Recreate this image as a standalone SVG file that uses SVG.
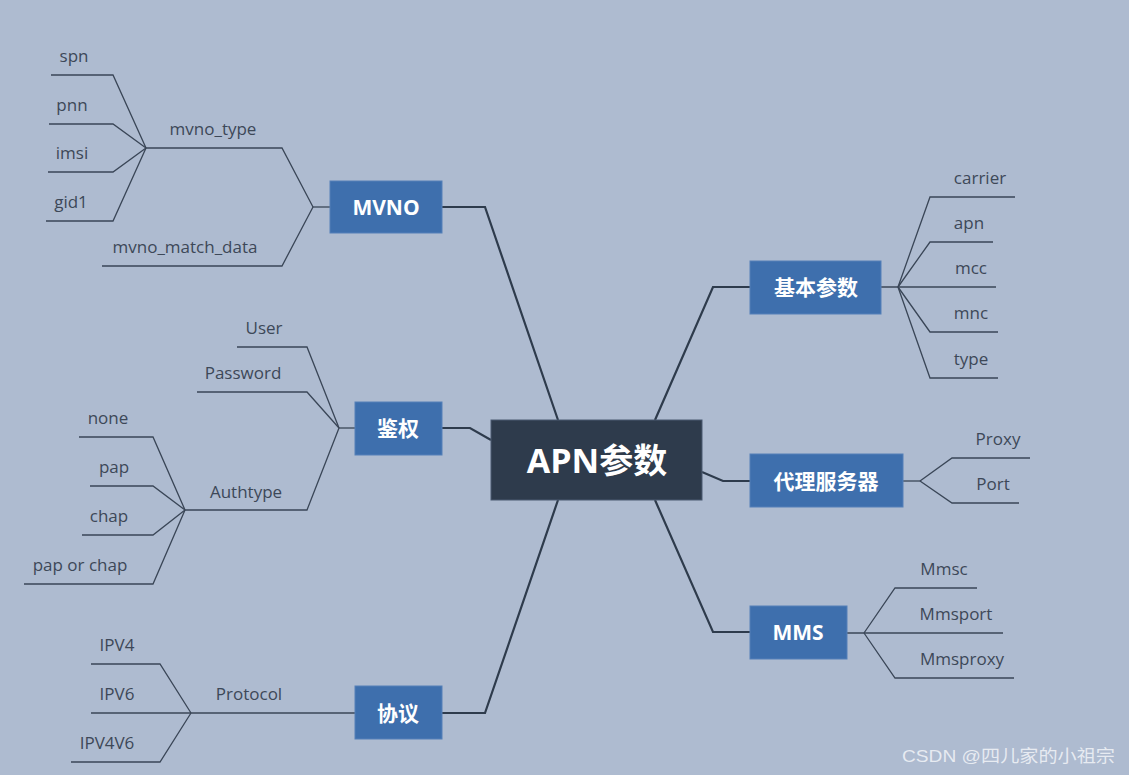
<svg xmlns="http://www.w3.org/2000/svg" width="1129" height="775" viewBox="0 0 1129 775">
<style>
.main{fill:#2e3b4c;stroke:#4a5a70;stroke-width:1}
.topic{fill:#3e6fad;stroke:#5580b8;stroke-width:1}
.tt{font-family:"Open Sans","Noto Sans","Noto Sans CJK SC",sans-serif;font-weight:bold;fill:#ffffff;text-anchor:middle;dominant-baseline:central}
.leaf{font-family:"Open Sans","Noto Sans",sans-serif;font-size:17px;fill:#3d4858;text-anchor:middle}
.c1{fill:none;stroke:#2e3b4c;stroke-width:2.2;stroke-linejoin:miter}
.c2{fill:none;stroke:#3a4657;stroke-width:1.3}
.wm{font-family:"Liberation Sans","Noto Sans CJK SC",sans-serif;font-size:17px;fill:#f2f4f8;fill-opacity:0.85}
</style>
<rect width="1129" height="775" fill="#aebbd0"/>
<g id="connectors">
<polyline class="c1" points="558,420 485,207 442,207"/>
<polyline class="c1" points="491,440 470,428 442,428"/>
<polyline class="c1" points="558,500 485,713 442,713"/>
<polyline class="c1" points="655,420 713,287 750,287"/>
<polyline class="c1" points="702,472 723,481 750,481"/>
<polyline class="c1" points="655,500 713,632 750,632"/>
<polyline class="c2" points="330,207 313,207"/>
<polyline class="c2" points="313,207 282,148 146,148"/>
<polyline class="c2" points="313,207 282,266 102,266"/>
<polyline class="c2" points="146,148 113,75 51,75"/>
<polyline class="c2" points="146,148 113,124 49,124"/>
<polyline class="c2" points="146,148 113,172 48,172"/>
<polyline class="c2" points="146,148 113,221 46,221"/>
<polyline class="c2" points="355,428 339,428"/>
<polyline class="c2" points="339,428 307,347 237,347"/>
<polyline class="c2" points="339,428 307,392 197,392"/>
<polyline class="c2" points="339,428 307,510 185,510"/>
<polyline class="c2" points="185,510 153,437 79,437"/>
<polyline class="c2" points="185,510 153,486 90,486"/>
<polyline class="c2" points="185,510 153,535 82,535"/>
<polyline class="c2" points="185,510 153,584 24,584"/>
<polyline class="c2" points="355,713 91,713"/>
<polyline class="c2" points="191,713 160,664 91,664"/>
<polyline class="c2" points="191,713 160,762 71,762"/>
<polyline class="c2" points="881,287 996,287"/>
<polyline class="c2" points="898,287 930,197 1015,197"/>
<polyline class="c2" points="898,287 930,242 993,242"/>
<polyline class="c2" points="898,287 930,332 998,332"/>
<polyline class="c2" points="898,287 930,378 998,378"/>
<polyline class="c2" points="903,481 920,481"/>
<polyline class="c2" points="920,481 952,458 1030,458"/>
<polyline class="c2" points="920,481 952,503 1019,503"/>
<polyline class="c2" points="847,633 1003,633"/>
<polyline class="c2" points="864,633 895,588 977,588"/>
<polyline class="c2" points="864,633 895,678 1014,678"/>
</g>
<g id="node-center"><rect class="main" x="491" y="420" width="211" height="80"/><text class="tt" x="597" y="460" font-size="34">APN参数</text></g>
<g id="node-mvno"><rect class="topic" x="330" y="181" width="112" height="52"/><text class="tt" x="386" y="207" font-size="21">MVNO</text></g>
<g id="node-auth"><rect class="topic" x="355" y="402" width="87" height="53"/><text class="tt" x="398" y="428" font-size="21">鉴权</text></g>
<g id="node-protocol"><rect class="topic" x="355" y="686" width="87" height="53"/><text class="tt" x="398" y="713" font-size="21">协议</text></g>
<g id="node-basic"><rect class="topic" x="750" y="261" width="131" height="53"/><text class="tt" x="816" y="287" font-size="21">基本参数</text></g>
<g id="node-proxy"><rect class="topic" x="750" y="454" width="153" height="53"/><text class="tt" x="826" y="481" font-size="21">代理服务器</text></g>
<g id="node-mms"><rect class="topic" x="750" y="606" width="97" height="53"/><text class="tt" x="798" y="632" font-size="21">MMS</text></g>
<g id="leaves">
<text class="leaf" x="213" y="135">mvno_type</text>
<text class="leaf" x="185" y="253">mvno_match_data</text>
<text class="leaf" x="74" y="62">spn</text>
<text class="leaf" x="72" y="111">pnn</text>
<text class="leaf" x="72" y="159">imsi</text>
<text class="leaf" x="71" y="208">gid1</text>
<text class="leaf" x="264" y="334">User</text>
<text class="leaf" x="243" y="379">Password</text>
<text class="leaf" x="246" y="498">Authtype</text>
<text class="leaf" x="108" y="424">none</text>
<text class="leaf" x="114" y="473">pap</text>
<text class="leaf" x="109" y="522">chap</text>
<text class="leaf" x="80" y="571">pap or chap</text>
<text class="leaf" x="249" y="700">Protocol</text>
<text class="leaf" x="117" y="651">IPV4</text>
<text class="leaf" x="117" y="700">IPV6</text>
<text class="leaf" x="107" y="749">IPV4V6</text>
<text class="leaf" x="980" y="184">carrier</text>
<text class="leaf" x="969" y="229">apn</text>
<text class="leaf" x="971" y="274">mcc</text>
<text class="leaf" x="971" y="319">mnc</text>
<text class="leaf" x="971" y="365">type</text>
<text class="leaf" x="998" y="445">Proxy</text>
<text class="leaf" x="993" y="490">Port</text>
<text class="leaf" x="944" y="575">Mmsc</text>
<text class="leaf" x="956" y="620">Mmsport</text>
<text class="leaf" x="962" y="665">Mmsproxy</text>
</g>
<text class="wm" x="902" y="762" textLength="213" lengthAdjust="spacingAndGlyphs">CSDN @四儿家的小祖宗</text>
</svg>
